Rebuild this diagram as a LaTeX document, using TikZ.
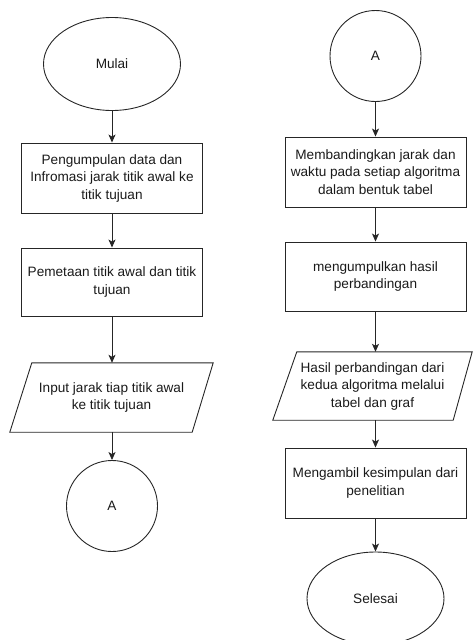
\documentclass[tikz,border=0pt]{standalone}
\usepackage{fontspec}
\setmainfont{Liberation Sans}
\usetikzlibrary{shapes.geometric,arrows.meta}
\definecolor{txt}{HTML}{1A1A1A}
\tikzset{
  labelfont/.style={text=txt, align=center, font=\fontsize{13.6}{17.5}\selectfont},
  base/.style={draw=black!85, line width=0.9pt, labelfont, inner sep=0pt},
  terminal/.style={base, ellipse, minimum width=137pt, minimum height=93pt},
  conn/.style={base, circle, minimum size=91pt},
  proc/.style={base, rectangle, minimum width=181pt},
  iobox/.style={rectangle, labelfont, inner sep=0pt},
  outline/.style={draw=black!85, line width=0.9pt},
  flow/.style={draw=black!85, line width=0.9pt, -{Stealth[length=8pt,width=7pt,inset=2pt]}}
}
\begin{document}
\begin{tikzpicture}[x=1pt,y=-1pt]
\useasboundingbox (0,0) rectangle (472,640);
% left column
\node[terminal] (mulai) at (112,64) {Mulai};
\node[proc, minimum height=70pt] (b1) at (112,178) {Pengumpulan data dan\\Infromasi jarak titik awal ke\\titik tujuan};
\node[proc, minimum height=68pt] (b2) at (112,282) {Pemetaan titik awal dan titik\\tujuan};
\node[iobox, minimum width=203pt, minimum height=69pt] (p1) at (111.5,397.5) {Input jarak tiap titik awal\\ke titik tujuan};
\draw[outline] ([xshift=22pt]p1.north west) -- (p1.north east) -- ([xshift=-21pt]p1.south east) -- (p1.south west) -- cycle;
\node[conn] (a1) at (112,506) {A};
\draw[flow] (mulai) -- (b1);
\draw[flow] (b1) -- (b2);
\draw[flow] (b2.south) -- (b2.south |- p1.north);
\draw[flow] (b2.south |- p1.south) -- (a1.north);
% right column
\node[conn] (a2) at (375.5,56) {A};
\node[proc, minimum height=70pt] (r1) at (375.5,172) {Membandingkan jarak dan\\waktu pada setiap algoritma\\dalam bentuk tabel};
\node[proc, minimum height=69pt] (r2) at (375.5,276.5) {mengumpulkan hasil\\perbandingan};
\node[iobox, minimum width=199pt, minimum height=68pt] (p2) at (372.5,386) {Hasil perbandingan dari\\kedua algoritma melalui\\tabel dan graf};
\draw[outline] ([xshift=24pt]p2.north west) -- (p2.north east) -- ([xshift=-19pt]p2.south east) -- (p2.south west) -- cycle;
\node[proc, minimum height=70pt] (r3) at (375.5,483) {Mengambil kesimpulan dari\\penelitian};
\node[terminal] (selesai) at (375.5,598.5) {Selesai};
\draw[flow] (a2) -- (r1);
\draw[flow] (r1) -- (r2);
\draw[flow] (r2.south) -- (r2.south |- p2.north);
\draw[flow] (r2.south |- p2.south) -- (r3.north);
\draw[flow] (r3) -- (selesai);
\end{tikzpicture}
\end{document}
